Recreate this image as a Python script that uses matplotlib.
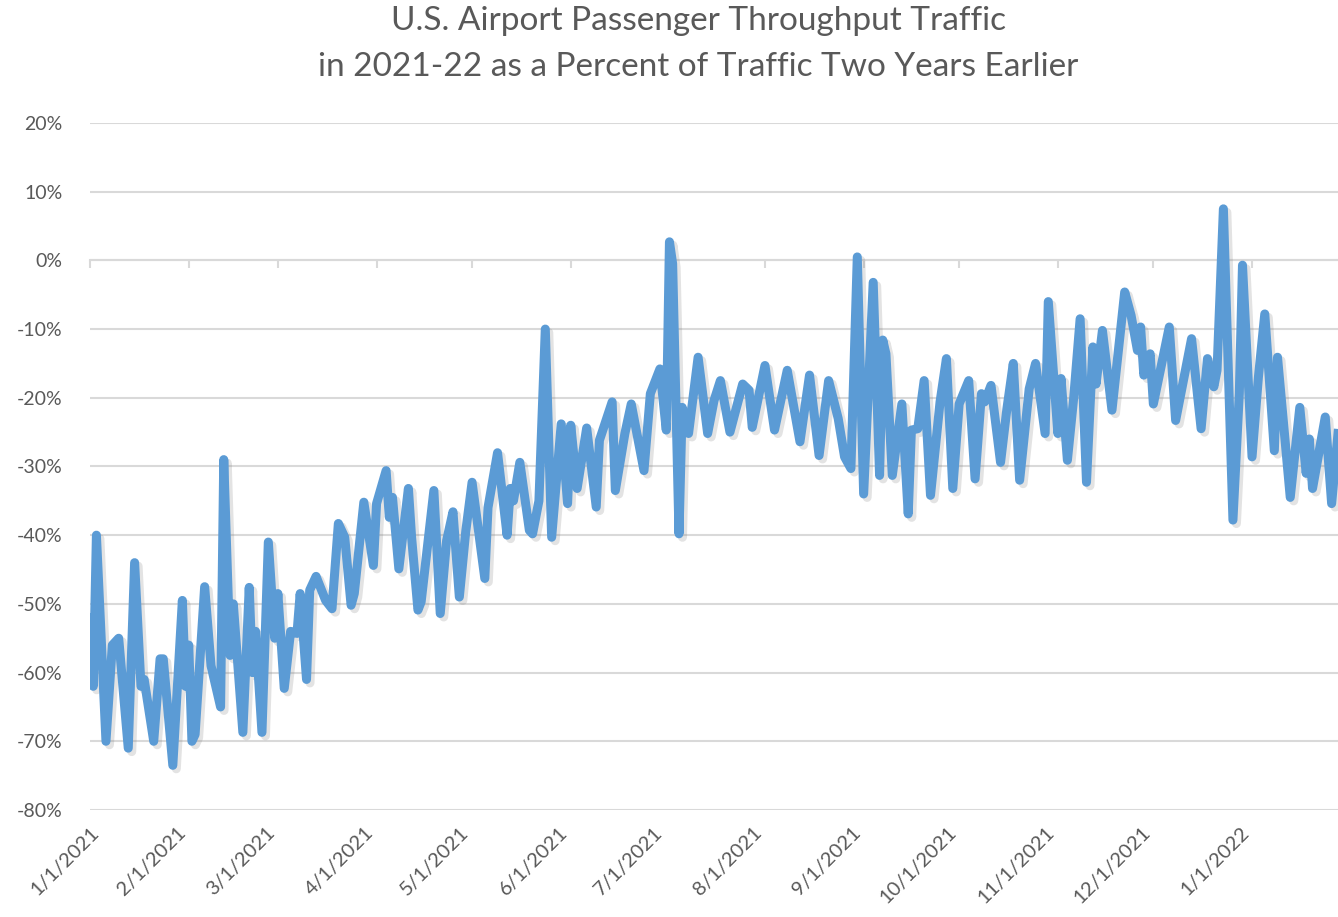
import numpy as np
import matplotlib
matplotlib.use("Agg")
import matplotlib.pyplot as plt
import matplotlib.dates as mdates
import matplotlib.patheffects as pe
from matplotlib.ticker import FuncFormatter, MultipleLocator

# days after 1/1/2021 and throughput vs. two years earlier (%)
day = [0, 1, 2, 5, 7, 9, 12, 14, 16, 17, 20, 22, 23, 26, 29, 30, 31, 32, 33, 36,
       38, 41, 42, 44, 45, 48, 50, 51, 52, 54, 56, 58, 59, 61, 63, 65, 66, 68, 69, 71,
       74, 76, 78, 80, 82, 83, 86, 89, 90, 93, 94, 95, 97, 100, 101, 103, 104, 108, 110, 112,
       114, 116, 118, 120, 124, 125, 128, 131, 132, 133, 135, 138, 139, 141, 143, 145, 148, 150, 151, 153,
       156, 159, 160, 164, 165, 168, 170, 174, 176, 179, 181, 182, 183, 185, 186, 188, 191, 194, 196, 198,
       201, 205, 207, 208, 212, 215, 219, 223, 226, 229, 232, 235, 237, 239, 241, 243, 246, 248, 249, 250,
       252, 255, 257, 258, 260, 262, 264, 267, 269, 271, 273, 276, 278, 280, 281, 283, 286, 288, 290, 292,
       295, 297, 300, 301, 304, 305, 307, 309, 311, 313, 315, 316, 318, 321, 325, 327, 329, 330, 331, 333,
       334, 339, 341, 346, 349, 351, 353, 354, 356, 359, 361, 362, 365, 367, 369, 372, 373, 377, 380, 382,
       383, 384, 388, 390, 392]
pct = [-52, -62, -40, -70, -56, -55, -71, -44, -62, -61, -70, -58, -58, -73.5, -49.5, -62, -56, -70, -69, -47.5,
       -59, -65, -29, -57.5, -50, -68.7, -47.6, -60, -54, -68.7, -41, -55, -48.5, -62.3, -54, -54.3, -48.5, -61, -48, -46,
       -49.5, -50.7, -38.3, -40.3, -50.2, -48.5, -35.2, -44.4, -35.4, -30.6, -37.4, -34.5, -44.9, -33.2, -40.3, -50.9, -49.7, -33.5, -51.4, -40.8,
       -36.6, -49, -39.5, -32.3, -46.3, -36, -28, -40, -33.2, -35, -29.4, -39.3, -39.8, -35, -10, -40.3, -23.8, -35.4, -24, -33.2,
       -24.4, -35.9, -26.2, -20.6, -33.5, -25.2, -20.9, -30.6, -19.4, -15.8, -24.7, 2.7, -0.5, -39.8, -21.4, -25.2, -14.1, -25.2, -20.4, -17.5,
       -25, -18, -18.9, -24.3, -15.3, -24.7, -16, -26.4, -16.7, -28.4, -17.5, -23, -28.6, -30.3, 0.5, -34, -3.2, -31.3, -11.6, -13.6,
       -31.3, -20.9, -36.9, -24.7, -24.5, -17.5, -34.2, -20.6, -14.3, -33.2, -20.9, -17.5, -31.8, -19.4, -20.6, -18.2, -29.4, -21.6, -15, -32,
       -18.7, -15, -25.2, -6, -25.2, -17.2, -29.1, -19.9, -8.5, -32.3, -12.6, -18, -10.2, -21.8, -4.6, -8, -13.1, -9.7, -16.7, -13.6,
       -20.9, -9.7, -23.3, -11.4, -24.5, -14.3, -18.4, -16, 7.5, -37.8, -19.4, -0.7, -28.6, -17, -7.8, -27.7, -14.1, -34.5, -21.4, -31,
       -26, -33.2, -22.8, -35.4, -25.2]

start = np.datetime64("2021-01-01")
dates = start + np.array(day).astype("timedelta64[D]")

plt.rcParams["font.family"] = ["Lato", "DejaVu Sans"]
grey = "#595959"

fig = plt.figure(figsize=(13.38, 9.17), dpi=100)
ax = fig.add_axes([0.0673, 0.1167, 0.9327, 0.7492])

ax.plot(dates, pct, color="#5B9BD5", lw=6.5, solid_joinstyle="round",
        path_effects=[pe.SimpleLineShadow(offset=(2.5, -2.5), shadow_color="#808080", alpha=0.22),
                      pe.Normal()], zorder=3)

ax.set_ylim(-80, 20)
ax.set_xlim(start, start + np.timedelta64(392, "D"))
ax.yaxis.set_major_locator(MultipleLocator(10))
ax.yaxis.set_major_formatter(FuncFormatter(lambda v, p: f"{v:.0f}%"))
ax.grid(axis="y", color="#D9D9D9", lw=1.5)
ax.set_axisbelow(True)
for s in ["left", "right", "top"]:
    ax.spines[s].set_visible(False)
ax.spines["bottom"].set_position(("data", 0))
ax.spines["bottom"].set_color("#D9D9D9")
ax.spines["bottom"].set_linewidth(1.5)
ax.tick_params(axis="y", length=0, pad=20, labelsize=14, labelcolor=grey)

ax.xaxis.set_major_locator(mdates.MonthLocator(bymonthday=1))
ax.tick_params(axis="x", labelbottom=False, length=6, width=1.5, color="#D9D9D9")

# date labels sit at the bottom of the plot, ticks stay on the 0% line
sec = ax.secondary_xaxis("bottom")
sec.xaxis.set_major_locator(mdates.MonthLocator(bymonthday=1))
sec.xaxis.set_major_formatter(FuncFormatter(
    lambda v, p: "{d.month}/{d.day}/{d.year}".format(d=mdates.num2date(v))))
sec.tick_params(length=0, pad=10, labelsize=14.5, labelcolor=grey)
sec.spines["bottom"].set_visible(False)
for lbl in sec.get_xticklabels():
    lbl.set_rotation(45)
    lbl.set_ha("right")
    lbl.set_rotation_mode("anchor")

fig.suptitle("U.S. Airport Passenger Throughput Traffic\nin 2021-22 as a Percent of Traffic Two Years Earlier",
             x=0.522, y=0.993, fontsize=24, color=grey, linespacing=1.65)

fig.savefig("out.png", dpi=100)
